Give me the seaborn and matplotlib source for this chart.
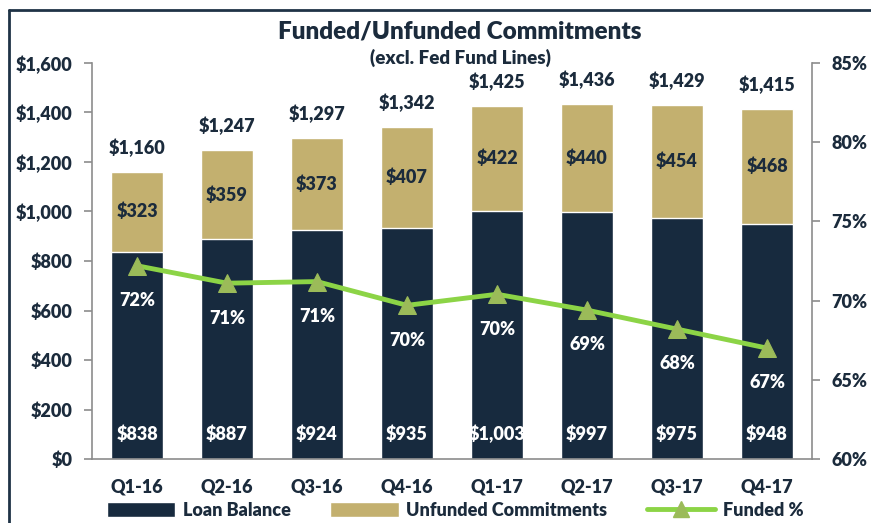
import numpy as np
import matplotlib
matplotlib.use("Agg")
import matplotlib.pyplot as plt
import seaborn as sns
from matplotlib.lines import Line2D
from matplotlib.patches import Patch

quarters = ["Q1-16", "Q2-16", "Q3-16", "Q4-16", "Q1-17", "Q2-17", "Q3-17", "Q4-17"]
loan_balance = [838, 887, 924, 935, 1003, 997, 975, 948]
unfunded = [323, 359, 373, 407, 422, 440, 454, 468]
totals = [1160, 1247, 1297, 1342, 1425, 1436, 1429, 1415]
funded_pct = [72.2, 71.1, 71.2, 69.7, 70.4, 69.4, 68.2, 67.0]
funded_labels = ["72%", "71%", "71%", "70%", "70%", "69%", "68%", "67%"]

navy = "#172a3e"
tan = "#c3b06f"
text_c = "#1b2b3c"
green_line = "#8cd446"
green_marker = "#9bbb59"
gray = "#8c8c8c"
W = "heavy"

sns.set_style("white")
plt.rcParams["font.family"] = ["Lato", "DejaVu Sans"]
plt.rcParams["font.weight"] = W

fig = plt.figure(figsize=(8.71, 5.23), dpi=100)
ax = fig.add_axes([92 / 871, 1 - 459 / 523, 720 / 871, 396 / 523])

# stacked look: totals in tan, loan balance in navy drawn over
sns.barplot(x=quarters, y=totals, color=tan, width=0.57, saturation=1, ax=ax)
sns.barplot(x=quarters, y=loan_balance, color=navy, width=0.57, saturation=1, ax=ax)

ax.set_ylim(0, 1600)
ax.set_xlim(-0.5, 7.5)
ax.set_yticks(np.arange(0, 1601, 200))
ax.set_yticklabels([f"${v:,}" for v in range(0, 1601, 200)], fontsize=13, color=text_c, fontweight=W)
ax.set_xticks(range(8))
ax.set_xticklabels(quarters, fontsize=13, color=text_c, fontweight=W)
ax.set_xticks(np.arange(-0.5, 8, 1), minor=True)
ax.tick_params(axis="x", which="major", length=0, pad=14)
ax.tick_params(axis="x", which="minor", length=6, color=gray, width=1.2)
ax.tick_params(axis="y", length=6, color=gray, width=1.2, left=True, pad=8)
for s in ["top", "right"]:
    ax.spines[s].set_visible(False)
for s in ["left", "bottom"]:
    ax.spines[s].set_color(gray)
    ax.spines[s].set_linewidth(1.2)

for i in range(8):
    ax.text(i, totals[i] + 60, f"${totals[i]:,}", ha="center", va="bottom", fontsize=13,
            color=text_c, fontweight=W)
    ax.text(i, loan_balance[i] + unfunded[i] / 2, f"${unfunded[i]}", ha="center", va="center",
            fontsize=13, color=text_c, fontweight=W)
    ax.text(i, 100, f"${loan_balance[i]:,}", ha="center", va="center", fontsize=13,
            color="white", fontweight=W)

ax2 = ax.twinx()
sns.lineplot(x=list(range(8)), y=funded_pct, ax=ax2, color=green_line, linewidth=3.5,
             marker="^", markersize=13, markerfacecolor=green_marker,
             markeredgecolor=green_marker)
ax2.set_ylim(60, 85)
ax2.set_xlim(-0.5, 7.5)
ax2.set_yticks(range(60, 86, 5))
ax2.set_yticklabels([f"{v}%" for v in range(60, 86, 5)], fontsize=13, color=text_c, fontweight=W)
ax2.tick_params(axis="y", length=6, color=gray, width=1.2, right=True, pad=8)
for s in ["top", "left", "bottom"]:
    ax2.spines[s].set_visible(False)
ax2.spines["right"].set_color(gray)
ax2.spines["right"].set_linewidth(1.2)
for i in range(8):
    ax2.text(i, funded_pct[i] - 2.2, funded_labels[i], ha="center", va="center", fontsize=13,
             color="white", fontweight=W)

fig.text(460 / 871, 1 - 31 / 523, "Funded/Unfunded Commitments", ha="center", va="center",
         fontsize=17.5, color=text_c, fontweight=W)
fig.text(460 / 871, 1 - 58 / 523, "(excl. Fed Fund Lines)", ha="center", va="center",
         fontsize=13.5, color=text_c, fontweight=W)

handles = [Patch(facecolor=navy), Patch(facecolor=tan),
           Line2D([0], [0], color=green_line, linewidth=3.5, marker="^", markersize=11,
                  markerfacecolor=green_marker, markeredgecolor=green_marker)]
fig.legend(handles, ["Loan Balance", "Unfunded Commitments", "Funded %"], loc="center",
           bbox_to_anchor=(455 / 871, 1 - 510 / 523), ncol=3, frameon=False,
           prop={"size": 13, "weight": W}, labelcolor=text_c, handlelength=3.8,
           handleheight=0.9, columnspacing=2.2, handletextpad=0.4, borderpad=0)

# frame around the slide
fig.add_artist(Line2D([9 / 871, 9 / 871], [0, 1 - 10 / 523], color="#1f3346", linewidth=2,
                      transform=fig.transFigure))
fig.add_artist(Line2D([9 / 871, 1], [1 - 10 / 523, 1 - 10 / 523], color="#1f3346", linewidth=2,
                      transform=fig.transFigure))

fig.savefig("out.png", dpi=100)
